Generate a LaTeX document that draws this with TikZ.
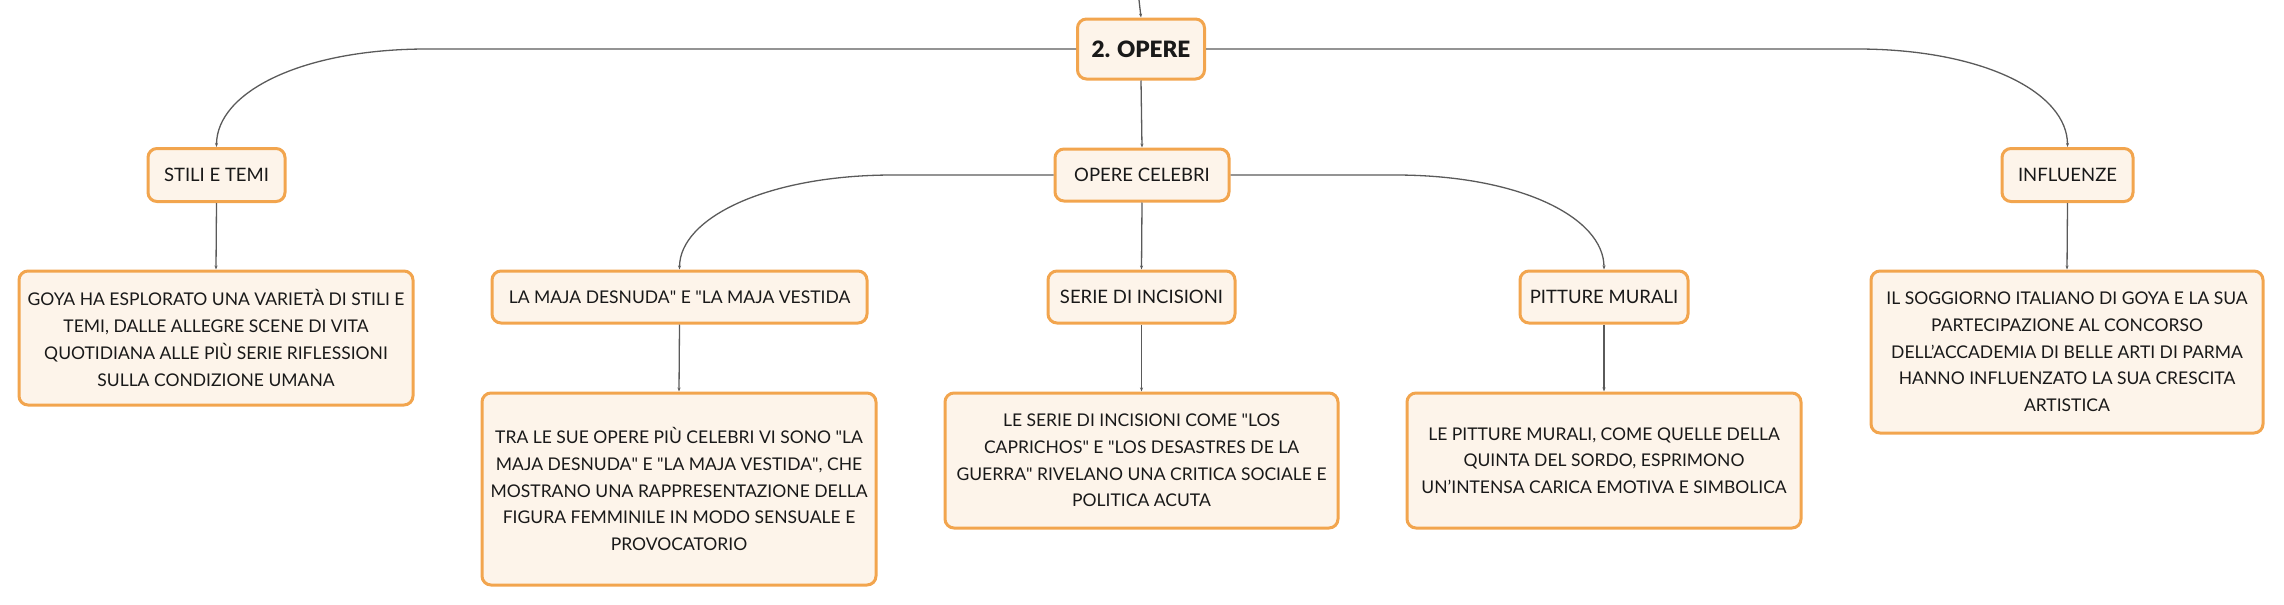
\documentclass[tikz,border=0pt]{standalone}
\usepackage{fontspec}
\setmainfont{Lato}
\newfontfamily\heavyfont{Lato Black}
\usetikzlibrary{positioning,arrows.meta}

\definecolor{boxfill}{HTML}{FDF4EA}
\definecolor{boxline}{HTML}{F2A54E}
\definecolor{linkgray}{HTML}{5A5A5A}

\tikzset{
  topic/.style={draw=boxline, line width=3pt, fill=boxfill, rounded corners=9pt,
    inner sep=0pt, align=center, text=black!90,
    font=\fontsize{18.5}{26.7}\selectfont},
  note/.style={topic, font=\fontsize{17.5}{26.7}\selectfont},
  link/.style={draw=linkgray, line width=1.3pt, -{Stealth[length=4pt,width=3pt]}}
}

\begin{document}
\begin{tikzpicture}[x=1pt,y=-1pt]
\useasboundingbox (0,0) rectangle (2284,605);

% Centro
\node[topic, minimum width=127pt, minimum height=60pt,
      font=\fontsize{22.5}{28}\heavyfont] (opere) at (1141,49) {2. OPERE};
\coordinate (top) at (1139,0);

% Rami
\node[topic, minimum width=137pt, minimum height=53pt] (stili) at (216.5,175) {STILI E TEMI};
\node[topic, minimum width=174pt, minimum height=52pt] (celebri) at (1142,175) {OPERE CELEBRI};
\node[topic, minimum width=131pt, minimum height=53pt] (influenze) at (2067.5,175) {INFLUENZE};

\node[note, minimum width=375pt, minimum height=52pt] (maja) at (679.5,297) {LA MAJA DESNUDA\textquotedbl{} E \textquotedbl{}LA MAJA VESTIDA};
\node[topic, minimum width=187pt, minimum height=52pt] (serie) at (1141.5,297) {SERIE DI INCISIONI};
\node[topic, minimum width=168pt, minimum height=52pt] (pitture) at (1604,297) {PITTURE MURALI};

% Testi
\node[note, minimum width=394pt, minimum height=134pt] (goya) at (216,338)
  {GOYA HA ESPLORATO UNA VARIETÀ DI STILI E\\TEMI, DALLE ALLEGRE SCENE DI VITA\\QUOTIDIANA ALLE PIÙ SERIE RIFLESSIONI\\SULLA CONDIZIONE UMANA};
\node[note, minimum width=394pt, minimum height=192pt] (majatxt) at (679,489)
  {TRA LE SUE OPERE PIÙ CELEBRI VI SONO \textquotedbl{}LA\\MAJA DESNUDA\textquotedbl{} E \textquotedbl{}LA MAJA VESTIDA\textquotedbl{}, CHE\\MOSTRANO UNA RAPPRESENTAZIONE DELLA\\FIGURA FEMMINILE IN MODO SENSUALE E\\PROVOCATORIO};
\node[note, minimum width=393pt, minimum height=135pt] (serietxt) at (1141.5,460.5)
  {LE SERIE DI INCISIONI COME \textquotedbl{}LOS\\CAPRICHOS\textquotedbl{} E \textquotedbl{}LOS DESASTRES DE LA\\GUERRA\textquotedbl{} RIVELANO UNA CRITICA SOCIALE E\\POLITICA ACUTA};
\node[note, minimum width=394pt, minimum height=135pt] (pitturetxt) at (1604,460.5)
  {LE PITTURE MURALI, COME QUELLE DELLA\\QUINTA DEL SORDO, ESPRIMONO\\UN'INTENSA CARICA EMOTIVA E SIMBOLICA};
\node[note, minimum width=392pt, minimum height=162pt] (influtxt) at (2067,352)
  {IL SOGGIORNO ITALIANO DI GOYA E LA SUA\\PARTECIPAZIONE AL CONCORSO\\DELL'ACCADEMIA DI BELLE ARTI DI PARMA\\HANNO INFLUENZATO LA SUA CRESCITA\\ARTISTICA};

% Collegamenti
\coordinate (bendL) at (427,49);
\coordinate (bendR) at (1857,49);
\coordinate (bendML) at (893,175);
\coordinate (bendMR) at (1395,175);

\draw[link] (top) -- (opere.north);
\draw[link] (opere.west) -- (bendL) .. controls +(-125,0) and +(0,-55) .. (stili.north);
\draw[link] (opere.east) -- (bendR) .. controls +(125,0) and +(0,-55) .. (influenze.north);
\draw[link] (opere.south) -- (celebri.north);

\draw[link] (celebri.west) -- (bendML) .. controls +(-125,0) and +(0,-52) .. (maja.north);
\draw[link] (celebri.east) -- (bendMR) .. controls +(125,0) and +(0,-52) .. (pitture.north);
\draw[link] (celebri.south) -- (serie.north);

\draw[link] (stili.south) -- (goya.north);
\draw[link] (maja.south) -- (majatxt.north);
\draw[link] (serie.south) -- (serietxt.north);
\draw[link] (pitture.south) -- (pitturetxt.north);
\draw[link] (influenze.south) -- (influtxt.north);

\end{tikzpicture}
\end{document}
